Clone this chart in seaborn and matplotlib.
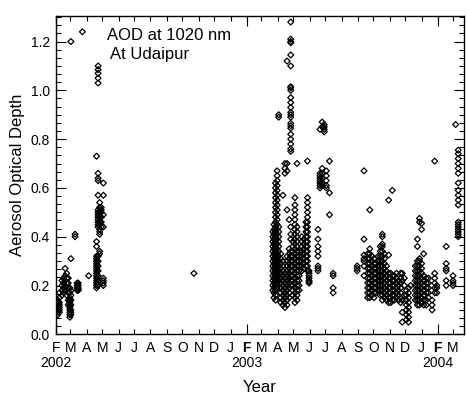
import matplotlib
matplotlib.use("Agg")
import matplotlib.pyplot as plt
import matplotlib.dates as mdates
import matplotlib.transforms as mtransforms
from matplotlib.ticker import MultipleLocator, AutoMinorLocator, FormatStrFormatter
import pandas as pd
import seaborn as sns

sns.set_theme(style="ticks")
plt.rcParams["font.family"] = ["Liberation Sans", "DejaVu Sans"]

# ---- AERONET AOD (1020 nm) at Udaipur: daily groups of retrievals ----
days_2002 = [
    "2002-02-05", "2002-02-08", "2002-02-13", "2002-02-16", "2002-02-19",
    "2002-02-22", "2002-02-25", "2002-02-28", "2002-03-02", "2002-03-10",
    "2002-03-14", "2002-03-16", "2002-03-24", "2002-04-05", "2002-04-20",
    "2002-04-23", "2002-04-26", "2002-04-29", "2002-05-03", "2002-10-23",
]
aod_2002 = [
    [0.08, 0.09, 0.10, 0.11, 0.12, 0.13, 0.14],
    [0.09, 0.10, 0.11, 0.12, 0.13, 0.15, 0.17],
    [0.16, 0.18, 0.20, 0.22],
    [0.17, 0.19, 0.21, 0.23],
    [0.18, 0.20, 0.22, 0.24, 0.27],
    [0.16, 0.19, 0.21, 0.23, 0.25],
    [0.12, 0.14, 0.17, 0.19, 0.21, 0.23],
    [0.07, 0.08, 0.09, 0.10, 0.11, 0.12, 0.13, 0.14, 0.15, 0.17, 0.19],
    [0.08, 0.09, 0.10, 0.12, 0.14, 0.16, 0.18, 0.31, 1.20],
    [0.40, 0.41],
    [0.18, 0.19, 0.20, 0.21],
    [0.18, 0.185, 0.19, 0.20, 0.21],
    [1.24],
    [0.24],
    [0.19, 0.20, 0.21, 0.22, 0.23, 0.24, 0.25, 0.26, 0.27, 0.28, 0.29, 0.30,
     0.31, 0.32, 0.36, 0.38, 0.73],
    [0.20, 0.22, 0.24, 0.26, 0.28, 0.30, 0.32, 0.44, 0.45, 0.46, 0.47, 0.48,
     0.49, 0.50, 0.51, 0.57, 0.63, 0.64, 0.66, 1.03, 1.05, 1.07, 1.085, 1.10],
    [0.33, 0.34, 0.41, 0.42, 0.43, 0.45, 0.46, 0.48, 0.50, 0.52, 0.54],
    [0.44, 0.46, 0.48, 0.50, 0.51, 0.52],
    [0.20, 0.21, 0.22, 0.23, 0.44, 0.49, 0.57, 0.62],
    [0.25],
]

days_spring_2003 = [
    "2003-03-23", "2003-03-25", "2003-03-28", "2003-03-31", "2003-04-03",
    "2003-04-07", "2003-04-11", "2003-04-15", "2003-04-19", "2003-04-23",
    "2003-04-26", "2003-04-30", "2003-05-04", "2003-05-08", "2003-05-12",
    "2003-05-17", "2003-05-21", "2003-05-25", "2003-05-28", "2003-05-31",
    "2003-06-17", "2003-06-21", "2003-06-25", "2003-06-29", "2003-07-03",
    "2003-07-09", "2003-07-16",
]
aod_spring_2003 = [
    [0.18, 0.20, 0.22, 0.24, 0.26, 0.28, 0.30, 0.32, 0.34, 0.36, 0.38, 0.40, 0.42],
    [0.15, 0.17, 0.19, 0.21, 0.23, 0.25, 0.27, 0.29, 0.31, 0.33, 0.35, 0.37,
     0.39, 0.41, 0.43, 0.45],
    [0.14, 0.16, 0.18, 0.20, 0.22, 0.24, 0.26, 0.28, 0.30, 0.32, 0.34, 0.36,
     0.38, 0.40, 0.42, 0.44, 0.46, 0.48, 0.50, 0.52, 0.54, 0.56, 0.58, 0.60, 0.62],
    [0.19, 0.21, 0.23, 0.25, 0.27, 0.29, 0.31, 0.33, 0.35, 0.37, 0.39, 0.41,
     0.43, 0.45, 0.47, 0.49, 0.51, 0.53, 0.55, 0.57, 0.59, 0.61, 0.63, 0.65, 0.67],
    [0.22, 0.24, 0.26, 0.28, 0.30, 0.32, 0.34, 0.36, 0.38, 0.40, 0.42, 0.44,
     0.89, 0.90],
    [0.13, 0.15, 0.17, 0.19, 0.21, 0.23, 0.25, 0.27, 0.29, 0.31, 0.33],
    [0.12, 0.14, 0.16, 0.18, 0.20, 0.22, 0.24, 0.26, 0.28, 0.30, 0.57],
    [0.11, 0.13, 0.15, 0.17, 0.19, 0.21, 0.23, 0.25, 0.66, 0.68, 0.70],
    [0.12, 0.14, 0.16, 0.18, 0.20, 0.22, 0.24, 0.26, 0.28, 0.30, 0.32, 0.51,
     0.67, 0.70, 1.12],
    [0.15, 0.17, 0.19, 0.21, 0.23, 0.25, 0.27, 0.29, 0.31, 0.33, 0.35, 0.47],
    [0.20, 0.22, 0.24, 0.26, 0.28, 0.30, 0.32, 0.34, 0.39, 0.41, 0.44, 0.75,
     0.76, 0.78, 0.80, 0.82, 0.845, 0.855, 0.865, 0.89, 0.90, 0.91, 0.93, 0.95,
     0.97, 1.00, 1.01, 1.015, 1.10, 1.145, 1.195, 1.20, 1.21, 1.28],
    [0.16, 0.18, 0.20, 0.22, 0.24, 0.26, 0.28, 0.30, 0.32, 0.34, 0.36, 0.38],
    [0.13, 0.15, 0.17, 0.19, 0.21, 0.23, 0.25, 0.27, 0.29, 0.31, 0.33, 0.35,
     0.37, 0.39, 0.41, 0.43, 0.45, 0.47, 0.49, 0.51, 0.53, 0.56],
    [0.14, 0.16, 0.18, 0.20, 0.22, 0.24, 0.26, 0.28, 0.30, 0.32, 0.34, 0.36,
     0.38, 0.40, 0.42, 0.44, 0.70],
    [0.18, 0.20, 0.22, 0.24, 0.26, 0.28, 0.30, 0.32, 0.34],
    [0.26, 0.28, 0.30, 0.32, 0.34, 0.36, 0.38, 0.40],
    [0.27, 0.29, 0.31, 0.33, 0.35, 0.37, 0.39],
    [0.28, 0.30, 0.32, 0.34, 0.36, 0.38, 0.40, 0.42, 0.44, 0.46],
    [0.26, 0.28, 0.30, 0.32, 0.34, 0.36, 0.38, 0.40, 0.42, 0.44, 0.46, 0.48,
     0.50, 0.52, 0.54, 0.56, 0.71],
    [0.21, 0.215, 0.22, 0.23, 0.24, 0.25, 0.26],
    [0.26, 0.27, 0.28, 0.32, 0.34, 0.36, 0.39, 0.43],
    [0.60, 0.61, 0.62, 0.63, 0.64, 0.65, 0.66, 0.84],
    [0.61, 0.62, 0.64, 0.66, 0.68, 0.85, 0.87],
    [0.83, 0.84, 0.85, 0.86],
    [0.60, 0.61, 0.63, 0.65, 0.67],
    [0.49, 0.58, 0.71],
    [0.17, 0.19, 0.24, 0.25],
]

days_winter_2003 = [
    "2003-08-31", "2003-09-13", "2003-09-20", "2003-09-24", "2003-09-28",
    "2003-10-02", "2003-10-06", "2003-10-10", "2003-10-14", "2003-10-18",
    "2003-10-22", "2003-10-26", "2003-10-30", "2003-11-03", "2003-11-06",
    "2003-11-10", "2003-11-14", "2003-11-18", "2003-11-22", "2003-11-25",
    "2003-11-29", "2003-12-03", "2003-12-07", "2003-12-11", "2003-12-20",
    "2003-12-24", "2003-12-28", "2004-01-01", "2004-01-05", "2004-01-10",
    "2004-01-14", "2004-01-21", "2004-01-26", "2004-01-30", "2004-02-17",
    "2004-03-01", "2004-03-06", "2004-03-11",
]
aod_winter_2003 = [
    [0.26, 0.27, 0.28],
    [0.24, 0.28, 0.30, 0.31, 0.325, 0.39, 0.67],
    [0.15, 0.17, 0.19, 0.21, 0.23, 0.25, 0.27, 0.29, 0.31, 0.33],
    [0.15, 0.17, 0.19, 0.21, 0.23, 0.25, 0.27, 0.29, 0.31, 0.33, 0.35, 0.51],
    [0.16, 0.18, 0.20, 0.22, 0.24, 0.26, 0.28, 0.30, 0.32],
    [0.15, 0.17, 0.19, 0.21, 0.23, 0.25, 0.27, 0.29, 0.31],
    [0.17, 0.19, 0.21, 0.23, 0.25, 0.27, 0.29],
    [0.18, 0.20, 0.22, 0.24, 0.26, 0.28, 0.30, 0.32],
    [0.16, 0.18, 0.20, 0.22, 0.24, 0.26, 0.28, 0.30, 0.32, 0.34, 0.36],
    [0.14, 0.16, 0.18, 0.20, 0.22, 0.24, 0.26, 0.28, 0.30, 0.32, 0.34, 0.36,
     0.37, 0.40, 0.41],
    [0.15, 0.17, 0.19, 0.21, 0.23, 0.25, 0.27, 0.29, 0.31, 0.33],
    [0.14, 0.16, 0.18, 0.20, 0.22, 0.24, 0.26, 0.28],
    [0.13, 0.15, 0.17, 0.19, 0.21, 0.23, 0.25, 0.325, 0.55],
    [0.13, 0.15, 0.17, 0.19, 0.21, 0.23, 0.25],
    [0.14, 0.16, 0.18, 0.20, 0.22, 0.24, 0.59],
    [0.14, 0.16, 0.18, 0.20, 0.22, 0.24],
    [0.15, 0.17, 0.19, 0.21, 0.23, 0.25],
    [0.14, 0.16, 0.18, 0.20, 0.22],
    [0.13, 0.15, 0.17, 0.19, 0.21, 0.23, 0.25],
    [0.05, 0.09, 0.14, 0.22, 0.25],
    [0.16, 0.20, 0.23],
    [0.06, 0.08, 0.10, 0.12, 0.14, 0.16, 0.18],
    [0.05, 0.07, 0.09, 0.11, 0.13, 0.15, 0.17, 0.19],
    [0.20],
    [0.14, 0.16, 0.18, 0.20, 0.22, 0.24, 0.26, 0.28],
    [0.12, 0.14, 0.16, 0.18, 0.20, 0.22, 0.24, 0.26, 0.28, 0.30, 0.36, 0.39],
    [0.12, 0.14, 0.16, 0.18, 0.20, 0.22, 0.24, 0.26, 0.28, 0.30, 0.31, 0.46, 0.475],
    [0.13, 0.15, 0.17, 0.19, 0.21, 0.23, 0.25, 0.27, 0.29, 0.43, 0.455],
    [0.12, 0.14, 0.16, 0.18, 0.20, 0.22, 0.24, 0.33],
    [0.12, 0.14, 0.17, 0.19, 0.21, 0.23],
    [0.15, 0.17, 0.19, 0.21, 0.23],
    [0.10, 0.12, 0.14],
    [0.17, 0.19, 0.21, 0.23, 0.25, 0.71],
    [0.17, 0.19, 0.20],
    [0.20, 0.22, 0.26, 0.27, 0.29, 0.36],
    [0.20, 0.21, 0.22, 0.24],
    [0.86],
    [0.40, 0.41, 0.42, 0.43, 0.44, 0.45, 0.46, 0.53, 0.55, 0.57, 0.59, 0.62,
     0.66, 0.68, 0.70, 0.72, 0.74, 0.755],
]

year_labels = ["2002", "2003", "2004"]


def daily_frame(days, values):
    rows = [(pd.Timestamp(d), v) for d, vals in zip(days, values) for v in vals]
    return pd.DataFrame(rows, columns=["date", "aod"])


df = pd.concat(
    [
        daily_frame(days_2002, aod_2002),
        daily_frame(days_spring_2003, aod_spring_2003),
        daily_frame(days_winter_2003, aod_winter_2003),
    ],
    ignore_index=True,
)

W, H = 466, 394
fig = plt.figure(figsize=(W / 100, H / 100), dpi=100)
left, right, top, bottom = 55.7, 464.0, 15.7, 334.3
ax = fig.add_axes([left / W, 1 - bottom / H, (right - left) / W, (bottom - top) / H])

sns.scatterplot(
    data=df, x="date", y="aod", marker="D", s=9,
    facecolor="none", edgecolor="black", linewidth=0.9,
    legend=False, ax=ax,
)

ax.set_xlim(pd.Timestamp("2002-02-01"), pd.Timestamp("2004-03-22"))
ax.set_ylim(0, 1.306)

# month ticks with single-letter labels, longer ticks at each February
months = pd.date_range("2002-02-01", "2004-03-01", freq="MS")
ax.set_xticks(months, labels=[m.strftime("%b")[0] for m in months])
ax.xaxis.set_minor_locator(mdates.MonthLocator(bymonth=2))
ax.xaxis.remove_overlapping_locs = False
for lab, m in zip(ax.get_xticklabels(), months):
    if m.month == 2 and m.year > 2002:
        lab.set_fontweight("bold")

ax.yaxis.set_major_locator(MultipleLocator(0.2))
ax.yaxis.set_minor_locator(AutoMinorLocator(6))
ax.yaxis.set_major_formatter(FormatStrFormatter("%.1f"))

ax.tick_params(axis="both", which="both", direction="in", top=True, right=True,
               color="black", width=0.8, labelcolor="black", labelsize=10)
ax.tick_params(axis="x", which="major", length=3.5, pad=5)
ax.tick_params(axis="x", which="minor", length=7)
ax.tick_params(axis="y", which="major", length=7, pad=4)
ax.tick_params(axis="y", which="minor", length=3.5)
for sp in ax.spines.values():
    sp.set_color("black")
    sp.set_linewidth(1.0)

trans = mtransforms.blended_transform_factory(ax.transData, ax.transAxes)
for yr in year_labels:
    ax.text(pd.Timestamp(f"{yr}-02-01"), -0.09, yr, transform=trans,
            ha="center", va="center", fontsize=10, color="black")

ax.set_xlabel("Year", fontsize=12, va="center", color="black")
ax.xaxis.set_label_coords(0.5, -0.1685)
ax.set_ylabel("Aerosol Optical Depth", fontsize=12, va="center", color="black")
ax.yaxis.set_label_coords(-0.0936, 0.5)

ax.text(0.1256, 0.939, "AOD at 1020 nm", transform=ax.transAxes,
        ha="left", va="center", fontsize=12, color="black")
ax.text(0.133, 0.877, "At Udaipur", transform=ax.transAxes,
        ha="left", va="center", fontsize=12, color="black")

fig.savefig("out.png", dpi=100)
